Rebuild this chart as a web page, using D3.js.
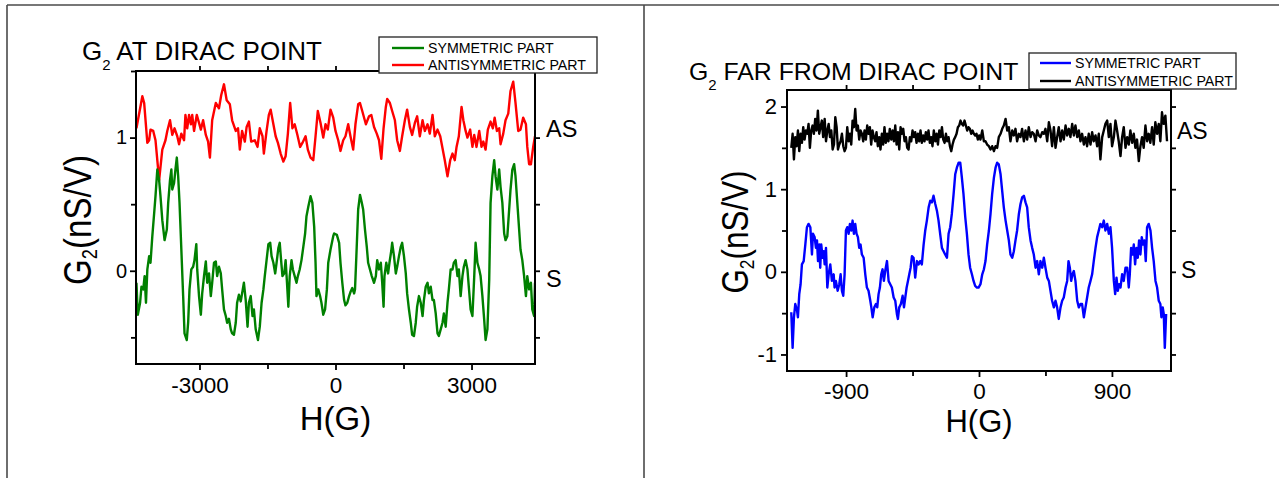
<!DOCTYPE html>
<html>
<head>
<meta charset="utf-8">
<script src="https://cdn.jsdelivr.net/npm/d3@7"></script>
<style>
  html, body { margin: 0; padding: 0; background: #fff; }
  svg { display: block; }
  text { font-family: "Liberation Sans", Arial, Helvetica, sans-serif; fill: #000; }
</style>
</head>
<body>
<svg id="fig" width="1279" height="478"></svg>
<script>
// ---------- G2 at the Dirac point: [H (G), G2 (nS/V)] ----------
const diracSymPts = [[-4390,-0.09],[-4360,-0.33],[-4310,-0.24],[-4280,-0.12],[-4240,-0.14],[-4210,-0.04],[-4180,-0.24],[-4150,0.01],[-4110,0.11],[-4080,0.06],[-4040,0.26],[-4000,0.43],[-3970,0.56],[-3930,0.76],[-3890,0.68],[-3860,0.56],[-3820,0.38],[-3770,0.23],[-3720,0.31],[-3690,0.51],[-3650,0.68],[-3620,0.76],[-3600,0.61],[-3560,0.66],[-3530,0.76],[-3500,0.85],[-3470,0.71],[-3440,0.51],[-3400,0.16],[-3360,-0.19],[-3330,-0.47],[-3280,-0.52],[-3250,-0.39],[-3220,-0.14],[-3180,0.01],[-3140,0.03],[-3110,0.08],[-3070,0.20],[-3050,0.01],[-3010,-0.19],[-2970,-0.33],[-2940,-0.17],[-2900,-0.04],[-2860,0.07],[-2830,-0.09],[-2790,-0.02],[-2750,-0.19],[-2720,-0.09],[-2680,0.06],[-2640,0.07],[-2610,-0.04],[-2570,0.03],[-2530,-0.02],[-2500,-0.14],[-2460,-0.29],[-2420,-0.34],[-2390,-0.39],[-2350,-0.36],[-2310,-0.44],[-2280,-0.47],[-2240,-0.48],[-2200,-0.39],[-2170,-0.24],[-2130,-0.18],[-2090,-0.23],[-2060,-0.17],[-2020,-0.09],[-1980,-0.22],[-1940,-0.42],[-1910,-0.24],[-1870,-0.19],[-1830,-0.34],[-1800,-0.29],[-1760,-0.44],[-1710,-0.52],[-1670,-0.42],[-1630,-0.24],[-1590,-0.14],[-1560,-0.04],[-1520,0.08],[-1480,0.20],[-1440,0.21],[-1410,0.11],[-1370,0.06],[-1330,-0.02],[-1300,0.06],[-1260,0.17],[-1230,0.21],[-1200,0.08],[-1170,-0.04],[-1130,-0.02],[-1100,0.08],[-1070,-0.09],[-1040,-0.27],[-1010,-0.04],[-970,0.08],[-940,0.01],[-900,-0.04],[-860,-0.09],[-830,-0.04],[-790,0.01],[-750,0.08],[-710,0.18],[-670,0.28],[-640,0.41],[-600,0.48],[-550,0.56],[-510,0.51],[-470,0.33],[-440,0.06],[-420,-0.19],[-380,-0.14],[-340,-0.19],[-310,-0.24],[-270,-0.33],[-230,-0.29],[-190,-0.14],[-160,0.06],[-110,0.16],[-50,0.26],[-30,0.28],[30,0.27],[80,0.21],[110,0.06],[150,-0.09],[190,-0.22],[220,-0.26],[260,-0.24],[300,-0.19],[330,-0.16],[370,-0.13],[410,-0.17],[430,-0.14],[460,0.11],[500,0.46],[540,0.57],[580,0.51],[610,0.46],[650,0.31],[690,0.18],[720,0.06],[760,0.01],[800,-0.04],[850,-0.09],[890,-0.04],[920,0.08],[960,0.01],[1000,0.06],[1030,-0.09],[1060,-0.27],[1080,-0.04],[1120,0.06],[1160,-0.02],[1190,0.06],[1230,0.15],[1250,0.21],[1290,0.11],[1330,-0.02],[1360,0.03],[1400,0.11],[1440,0.18],[1470,0.21],[1510,0.11],[1550,-0.02],[1580,-0.17],[1620,-0.29],[1660,-0.39],[1690,-0.48],[1730,-0.49],[1770,-0.39],[1800,-0.27],[1840,-0.19],[1880,-0.24],[1920,-0.34],[1950,-0.22],[1990,-0.12],[2030,-0.09],[2060,-0.17],[2100,-0.12],[2140,-0.22],[2170,-0.22],[2210,-0.32],[2250,-0.47],[2280,-0.49],[2320,-0.44],[2360,-0.39],[2390,-0.32],[2430,-0.42],[2470,-0.24],[2500,-0.14],[2540,0.01],[2580,0.01],[2610,0.06],[2650,0.08],[2690,-0.04],[2720,0.01],[2760,-0.19],[2800,-0.04],[2830,0.03],[2870,0.08],[2910,0.01],[2940,-0.12],[2980,-0.29],[3020,-0.34],[3060,-0.04],[3090,0.21],[3130,0.06],[3170,0.01],[3200,-0.04],[3240,-0.19],[3280,-0.37],[3310,-0.52],[3350,-0.44],[3390,-0.07],[3420,0.51],[3460,0.71],[3500,0.83],[3530,0.71],[3570,0.61],[3610,0.76],[3640,0.63],[3680,0.51],[3720,0.28],[3750,0.23],[3790,0.26],[3830,0.46],[3860,0.61],[3900,0.76],[3940,0.80],[3970,0.71],[4010,0.51],[4050,0.31],[4080,0.16],[4120,0.08],[4160,-0.04],[4200,-0.19],[4230,-0.04],[4270,-0.14],[4310,-0.09],[4340,-0.29],[4380,-0.34],[4400,-0.09]];

const diracAntiPts = [[-4390,1.07],[-4260,1.31],[-4220,1.26],[-4150,0.96],[-4110,0.98],[-4080,1.06],[-4020,1.05],[-3970,0.98],[-3890,0.68],[-3820,0.91],[-3750,0.98],[-3710,1.05],[-3650,1.13],[-3600,1.02],[-3550,1.07],[-3490,1.01],[-3450,0.95],[-3400,1.03],[-3340,0.98],[-3310,1.17],[-3270,1.07],[-3230,1.17],[-3190,1.10],[-3160,1.17],[-3120,1.05],[-3060,1.17],[-3010,1.11],[-2970,1.06],[-2920,1.13],[-2860,1.02],[-2810,0.97],[-2770,0.85],[-2720,1.13],[-2640,1.26],[-2570,1.22],[-2520,1.32],[-2460,1.40],[-2400,1.28],[-2330,1.25],[-2280,1.13],[-2200,1.05],[-2150,1.07],[-2110,0.91],[-2060,1.05],[-2000,0.97],[-1960,1.08],[-1910,1.12],[-1860,0.97],[-1780,0.98],[-1720,0.93],[-1670,1.07],[-1610,1.01],[-1580,0.88],[-1520,1.05],[-1470,1.17],[-1430,1.21],[-1370,1.10],[-1320,1.01],[-1270,0.96],[-1210,0.88],[-1150,0.82],[-1100,0.86],[-1050,1.03],[-1000,1.26],[-950,1.07],[-900,1.10],[-840,1.02],[-780,0.93],[-730,0.96],[-660,1.01],[-610,0.91],[-550,0.85],[-490,0.83],[-440,1.01],[-390,1.20],[-330,1.11],[-270,1.00],[-220,1.10],[-170,1.06],[-110,1.21],[-50,1.15],[0,1.05],[60,0.98],[110,0.90],[170,0.98],[220,1.01],[280,1.10],[330,1.01],[390,0.91],[440,1.10],[500,1.25],[540,1.26],[590,1.20],[670,1.10],[740,1.16],[790,1.17],[850,1.08],[910,1.03],[960,0.98],[1010,0.84],[1060,1.07],[1110,1.23],[1140,1.29],[1200,1.26],[1250,1.20],[1310,1.13],[1360,0.98],[1420,0.90],[1470,1.01],[1530,1.13],[1580,1.21],[1640,1.08],[1690,1.02],[1750,1.11],[1800,1.16],[1860,1.01],[1920,1.13],[1970,1.05],[2030,1.10],[2080,1.03],[2140,1.17],[2190,1.01],[2250,1.06],[2310,1.01],[2360,0.92],[2410,0.83],[2470,0.71],[2530,0.83],[2580,0.88],[2630,0.83],[2670,0.93],[2720,1.01],[2780,1.23],[2820,1.13],[2870,1.05],[2910,1.00],[2970,1.06],[3020,0.93],[3060,1.02],[3110,0.93],[3170,1.05],[3220,0.93],[3260,0.97],[3310,0.91],[3360,1.06],[3420,1.12],[3470,1.07],[3510,1.15],[3560,1.05],[3610,1.07],[3640,0.95],[3700,1.03],[3750,1.13],[3810,1.18],[3860,1.35],[3920,1.42],[3970,1.26],[4030,1.05],[4080,1.06],[4140,1.15],[4200,1.10],[4230,0.93],[4270,0.80],[4310,0.80],[4360,0.93],[4400,1.01]];

// ---------- G2 far from the Dirac point: [H (G), G2 (nS/V)] ----------
const farSymPts = [[-1271,-0.49],[-1262,-0.92],[-1253,-0.55],[-1244,-0.39],[-1232,-0.47],[-1226,-0.55],[-1217,-0.27],[-1208,-0.15],[-1199,0.09],[-1187,0.13],[-1176,0.33],[-1165,0.54],[-1154,0.58],[-1142,0.54],[-1131,0.21],[-1124,0.46],[-1113,0.42],[-1104,0.29],[-1097,0.38],[-1090,0.13],[-1081,0.33],[-1075,0.05],[-1068,0.33],[-1059,0.17],[-1052,0.25],[-1045,0.09],[-1036,0.29],[-1027,-0.19],[-1018,-0.03],[-1007,0.09],[-996,-0.11],[-984,-0.03],[-978,-0.19],[-969,-0.11],[-957,-0.23],[-946,-0.15],[-937,-0.03],[-928,-0.23],[-919,-0.29],[-910,-0.03],[-901,0.50],[-892,0.54],[-883,0.46],[-874,0.58],[-865,0.50],[-856,0.62],[-847,0.46],[-838,0.58],[-829,0.46],[-820,0.42],[-811,0.29],[-802,0.33],[-793,0.21],[-781,0.17],[-770,-0.03],[-759,-0.19],[-748,-0.23],[-736,-0.35],[-729,-0.43],[-720,-0.55],[-709,-0.43],[-698,-0.39],[-689,-0.43],[-680,-0.27],[-671,-0.19],[-662,-0.03],[-653,0.03],[-644,-0.11],[-635,0.01],[-623,0.13],[-612,-0.11],[-601,-0.15],[-590,-0.19],[-578,-0.31],[-567,-0.35],[-556,-0.51],[-549,-0.57],[-540,-0.43],[-529,-0.39],[-517,-0.29],[-508,-0.43],[-499,-0.31],[-490,-0.19],[-481,-0.11],[-472,-0.03],[-463,0.05],[-454,0.19],[-443,0.17],[-432,-0.07],[-420,0.13],[-409,0.09],[-398,0.13],[-387,0.09],[-375,0.33],[-364,0.50],[-353,0.62],[-341,0.78],[-330,0.86],[-319,0.84],[-308,0.92],[-296,0.82],[-285,0.74],[-274,0.62],[-263,0.46],[-251,0.29],[-240,0.25],[-229,0.21],[-217,0.17],[-206,0.46],[-195,0.54],[-184,0.70],[-172,0.94],[-161,1.18],[-150,1.26],[-138,1.32],[-127,1.32],[-116,1.14],[-105,0.94],[-93,0.66],[-82,0.46],[-71,0.21],[-60,0.05],[-48,-0.03],[-37,-0.11],[-26,-0.17],[-14,-0.19],[-3,-0.19],[10,-0.15],[22,-0.03],[33,0.03],[44,0.13],[55,0.33],[67,0.50],[78,0.70],[89,0.94],[101,1.14],[112,1.26],[123,1.32],[134,1.30],[146,1.18],[157,0.98],[168,0.78],[180,0.62],[191,0.50],[202,0.38],[213,0.21],[225,0.17],[236,0.25],[247,0.38],[258,0.50],[270,0.70],[281,0.82],[292,0.90],[304,0.92],[315,0.84],[326,0.78],[337,0.54],[349,0.38],[360,0.29],[371,0.21],[383,0.05],[394,0.13],[405,-0.03],[416,0.13],[428,0.05],[439,0.17],[450,0.05],[462,-0.07],[473,-0.11],[484,-0.23],[495,-0.35],[507,-0.43],[518,-0.35],[529,-0.43],[540,-0.57],[552,-0.43],[563,-0.35],[574,-0.31],[586,-0.19],[597,-0.11],[606,0.13],[615,0.05],[624,-0.11],[633,-0.03],[642,0.01],[653,-0.11],[665,-0.35],[676,-0.43],[687,-0.39],[698,-0.39],[710,-0.55],[721,-0.43],[732,-0.31],[743,-0.19],[755,-0.11],[766,-0.03],[777,0.13],[789,0.29],[800,0.42],[811,0.50],[822,0.58],[834,0.54],[845,0.62],[856,0.50],[868,0.58],[879,0.46],[890,0.54],[901,0.29],[913,-0.11],[922,-0.27],[931,-0.07],[940,-0.23],[949,-0.15],[958,-0.19],[969,-0.03],[980,-0.11],[992,0.05],[1003,0.05],[1014,-0.19],[1021,-0.03],[1030,0.29],[1039,0.21],[1048,0.33],[1057,0.09],[1066,0.29],[1075,0.17],[1084,0.38],[1093,0.21],[1102,0.42],[1111,0.33],[1120,0.38],[1129,0.13],[1138,0.54],[1149,0.58],[1161,0.50],[1172,0.29],[1183,0.13],[1195,-0.11],[1206,-0.19],[1217,-0.35],[1228,-0.39],[1235,-0.55],[1244,-0.43],[1251,-0.51],[1258,-0.92],[1267,-0.51]];

const farAntiPts = [[-1271,1.50],[-1262,1.67],[-1253,1.36],[-1244,1.63],[-1235,1.52],[-1226,1.71],[-1217,1.46],[-1208,1.67],[-1199,1.56],[-1190,1.75],[-1181,1.60],[-1172,1.71],[-1163,1.67],[-1154,1.79],[-1145,1.50],[-1136,1.71],[-1127,1.77],[-1118,1.67],[-1109,1.85],[-1100,1.71],[-1091,1.95],[-1082,1.67],[-1073,1.75],[-1064,1.83],[-1055,1.63],[-1045,1.85],[-1036,1.58],[-1027,1.71],[-1018,1.79],[-1009,1.63],[-1000,1.71],[-991,1.48],[-982,1.54],[-973,1.87],[-964,1.75],[-955,1.48],[-946,1.54],[-937,1.58],[-928,1.67],[-919,1.52],[-910,1.46],[-901,1.50],[-892,1.75],[-883,1.58],[-874,1.67],[-865,1.54],[-856,1.83],[-847,1.75],[-838,1.97],[-829,1.71],[-820,1.77],[-811,1.60],[-802,1.71],[-793,1.67],[-784,1.58],[-775,1.71],[-766,1.60],[-757,1.77],[-748,1.67],[-739,1.75],[-730,1.54],[-721,1.71],[-712,1.63],[-703,1.58],[-694,1.69],[-685,1.52],[-676,1.63],[-667,1.48],[-658,1.67],[-649,1.54],[-640,1.75],[-631,1.56],[-622,1.67],[-613,1.58],[-604,1.73],[-594,1.60],[-585,1.71],[-576,1.58],[-567,1.77],[-558,1.54],[-549,1.69],[-540,1.48],[-531,1.75],[-522,1.67],[-513,1.73],[-504,1.58],[-495,1.63],[-486,1.50],[-477,1.48],[-468,1.63],[-459,1.58],[-450,1.71],[-441,1.63],[-432,1.69],[-423,1.56],[-414,1.67],[-405,1.58],[-396,1.71],[-387,1.56],[-378,1.65],[-369,1.58],[-360,1.69],[-351,1.60],[-342,1.71],[-333,1.56],[-324,1.63],[-315,1.52],[-306,1.71],[-296,1.58],[-287,1.67],[-278,1.54],[-269,1.71],[-260,1.63],[-251,1.75],[-242,1.60],[-233,1.56],[-224,1.67],[-215,1.58],[-206,1.63],[-197,1.52],[-188,1.46],[-179,1.54],[-170,1.60],[-161,1.63],[-152,1.67],[-143,1.75],[-134,1.77],[-125,1.83],[-116,1.79],[-107,1.77],[-98,1.83],[-89,1.77],[-80,1.71],[-71,1.75],[-62,1.73],[-53,1.67],[-44,1.71],[-35,1.67],[-26,1.65],[-17,1.67],[-8,1.60],[1,1.65],[10,1.60],[22,1.71],[33,1.58],[44,1.58],[55,1.54],[67,1.52],[78,1.48],[89,1.52],[101,1.46],[112,1.52],[123,1.50],[134,1.63],[146,1.67],[157,1.73],[168,1.77],[180,1.85],[191,1.71],[202,1.75],[213,1.58],[225,1.71],[236,1.65],[247,1.73],[258,1.58],[270,1.67],[281,1.63],[292,1.73],[304,1.58],[315,1.71],[326,1.60],[337,1.75],[349,1.63],[360,1.69],[371,1.67],[383,1.58],[394,1.71],[405,1.65],[416,1.63],[428,1.69],[439,1.67],[450,1.73],[462,1.58],[473,1.81],[484,1.71],[495,1.52],[507,1.75],[518,1.50],[529,1.63],[540,1.75],[552,1.58],[563,1.71],[574,1.60],[586,1.77],[597,1.65],[608,1.73],[619,1.63],[631,1.79],[642,1.65],[653,1.77],[665,1.63],[676,1.71],[687,1.58],[698,1.67],[710,1.54],[721,1.63],[732,1.52],[743,1.67],[755,1.54],[766,1.69],[777,1.58],[789,1.65],[800,1.52],[811,1.67],[822,1.36],[834,1.63],[845,1.71],[856,1.79],[868,1.83],[879,1.63],[890,1.79],[901,1.52],[913,1.63],[924,1.83],[935,1.71],[946,1.58],[958,1.40],[969,1.63],[980,1.75],[992,1.50],[1003,1.63],[1014,1.54],[1025,1.71],[1037,1.56],[1048,1.67],[1059,1.50],[1070,1.60],[1082,1.34],[1093,1.52],[1104,1.63],[1115,1.50],[1127,1.77],[1138,1.58],[1149,1.67],[1160,1.56],[1172,1.75],[1183,1.54],[1194,1.81],[1206,1.67],[1217,1.79],[1228,1.58],[1239,1.93],[1250,1.79],[1262,1.89],[1273,1.58]];

// ---------- axis ticks and labels ----------
const diracXTicks = [-3000, 0, 3000];
const diracXMinor = [-1500, 1500];
const diracYTicks = [0, 1];
const diracYMinor = [-0.5, 0.5, 1.5];
const farXTicks = [-900, 0, 900];
const farXMinor = [-450, 450];
const farYTicks = [-1, 0, 1, 2];
const farYMinor = [-0.5, 0.5, 1.5];

const legendLabels = ["SYMMETRIC PART", "ANTISYMMETRIC PART"];
const sideLabels = ["AS", "S"];

const svg = d3.select("#fig");
svg.append("rect").attr("width", 1279).attr("height", 478).attr("fill", "#fff");

// page frame and panel divider
const frame = svg.append("g").attr("stroke", "#4a4a4a").attr("stroke-width", 1.6).attr("fill", "none");
frame.append("line").attr("x1", 7).attr("y1", 5).attr("x2", 1279).attr("y2", 5);
frame.append("line").attr("x1", 7).attr("y1", 5).attr("x2", 7).attr("y2", 478);
frame.append("line").attr("x1", 644).attr("y1", 5).attr("x2", 644).attr("y2", 478);

function drawPanel(p) {
  const g = svg.append("g");
  const x = d3.scaleLinear().domain(p.xDomain).range([p.left, p.right]);
  const y = d3.scaleLinear().domain(p.yDomain).range([p.bottom, p.top]);
  const w = p.right - p.left, h = p.bottom - p.top;

  const clipId = "clip-" + p.id;
  g.append("clipPath").attr("id", clipId)
    .append("rect").attr("x", p.left).attr("y", p.top).attr("width", w).attr("height", h);

  const line = d3.line().x(d => x(d[0])).y(d => y(d[1]));
  const curves = g.append("g").attr("clip-path", `url(#${clipId})`);
  [[p.anti, p.antiColor], [p.sym, p.symColor]].forEach(([pts, col]) => {
    curves.append("path").datum(pts)
      .attr("d", line).attr("fill", "none")
      .attr("stroke", col).attr("stroke-width", 2.4)
      .attr("stroke-linejoin", "round");
  });

  // ticks: major with labels, minor without, mirrored on top and right
  const styleAxis = sel => {
    sel.select(".domain").remove();
    sel.selectAll(".tick line").attr("stroke", "#000").attr("stroke-width", 1.8);
  };
  const fmt = d => String(d);
  const bx = g.append("g").attr("transform", `translate(0,${p.bottom})`)
    .call(d3.axisBottom(x).tickValues(p.xTicks).tickFormat(fmt).tickSize(6)).call(styleAxis);
  bx.selectAll("text").attr("y", p.xLabelOffset).attr("dy", null)
    .style("font-size", p.xTickFont + "px").style("font-family", null);
  g.append("g").attr("transform", `translate(0,${p.bottom})`)
    .call(d3.axisBottom(x).tickValues(p.xMinor).tickFormat("").tickSize(5)).call(styleAxis);
  g.append("g").attr("transform", `translate(0,${p.top})`)
    .call(d3.axisTop(x).tickValues(p.xTicks.concat(p.xMinor)).tickFormat("").tickSize(5)).call(styleAxis);

  const ly = g.append("g").attr("transform", `translate(${p.left},0)`)
    .call(d3.axisLeft(y).tickValues(p.yTicks).tickFormat(fmt).tickSize(6)).call(styleAxis);
  ly.selectAll("text").attr("x", p.yLabelOffset)
    .style("font-size", p.yTickFont + "px").style("font-family", null);
  g.append("g").attr("transform", `translate(${p.left},0)`)
    .call(d3.axisLeft(y).tickValues(p.yMinor).tickFormat("").tickSize(5)).call(styleAxis);
  g.append("g").attr("transform", `translate(${p.right},0)`)
    .call(d3.axisRight(y).tickValues(p.yTicks.concat(p.yMinor)).tickFormat("").tickSize(5)).call(styleAxis);
  g.selectAll(".tick text").attr("fill", "#000");

  // plot frame
  g.append("rect").attr("x", p.left).attr("y", p.top).attr("width", w).attr("height", h)
    .attr("fill", "none").attr("stroke", "#000").attr("stroke-width", 2);

  // title with subscript
  const t = g.append("text").attr("x", p.titleX).attr("y", p.titleY).style("font-size", p.titleFont + "px");
  t.append("tspan").text("G");
  t.append("tspan").attr("dy", 10).style("font-size", "15px").text("2");
  t.append("tspan").attr("dy", -10).text(" " + p.title);

  // axis titles
  g.append("text").attr("x", x(0)).attr("y", p.xTitleY).attr("text-anchor", "middle")
    .style("font-size", p.xTitleFont + "px").text("H(G)");
  const yt = g.append("text")
    .attr("transform", `translate(${p.yTitleX},${p.yTitleY}) rotate(-90) scale(${p.yTitleSqueeze},1)`)
    .attr("text-anchor", "middle").style("font-size", p.yTitleFont + "px");
  yt.append("tspan").text("G");
  yt.append("tspan").attr("dy", 6).style("font-size", (p.yTitleFont * 0.55) + "px").text("2");
  yt.append("tspan").attr("dy", -6).text("(nS/V)");

  // curve tags on the right
  g.append("text").attr("x", p.tagX).attr("y", p.tagYs[0]).style("font-size", p.tagFont + "px").text(sideLabels[0]);
  g.append("text").attr("x", p.tagX + p.sTagShift).attr("y", p.tagYs[1]).style("font-size", p.tagFont + "px").text(sideLabels[1]);

  // legend
  const lg = g.append("g");
  lg.append("rect").attr("x", p.legend.x).attr("y", p.legend.y)
    .attr("width", p.legend.w).attr("height", p.legend.h)
    .attr("fill", "#fff").attr("stroke", "#222").attr("stroke-width", 1.3);
  [p.symColor, p.antiColor].forEach((col, i) => {
    const yy = p.legend.rowY[i];
    lg.append("line").attr("x1", p.legend.lineX1).attr("x2", p.legend.lineX2)
      .attr("y1", yy).attr("y2", yy).attr("stroke", col).attr("stroke-width", 2.4);
    lg.append("text").attr("x", p.legend.textX).attr("y", yy + 5)
      .style("font-size", "14.2px").text(legendLabels[i]);
  });
}

drawPanel({
  id: "dirac",
  left: 136, right: 535, top: 71, bottom: 364,
  xDomain: [-4400, 4400], yDomain: [-0.7, 1.5],
  xTicks: diracXTicks, xMinor: diracXMinor, yTicks: diracYTicks, yMinor: diracYMinor,
  sym: diracSymPts, anti: diracAntiPts, symColor: "#008000", antiColor: "#ff0000",
  xLabelOffset: 29, xTickFont: 22.5, yLabelOffset: -9, yTickFont: 20,
  title: "AT DIRAC POINT", titleX: 82, titleY: 60, titleFont: 26,
  xTitleY: 430, xTitleFont: 33,
  yTitleX: 91, yTitleY: 220, yTitleFont: 39, yTitleSqueeze: 0.85,
  tagX: 546, sTagShift: 0, tagYs: [137, 287], tagFont: 23.5,
  legend: { x: 379, y: 37, w: 218, h: 36, rowY: [48, 65], lineX1: 392, lineX2: 424, textX: 428 }
});

drawPanel({
  id: "far",
  left: 787, right: 1171, top: 90, bottom: 371,
  xDomain: [-1300, 1300], yDomain: [-1.2, 2.2],
  xTicks: farXTicks, xMinor: farXMinor, yTicks: farYTicks, yMinor: farYMinor,
  sym: farSymPts, anti: farAntiPts, symColor: "#0000ff", antiColor: "#000000",
  xLabelOffset: 28, xTickFont: 22.5, yLabelOffset: -10, yTickFont: 22,
  title: "FAR FROM DIRAC POINT", titleX: 689, titleY: 80, titleFont: 24.8,
  xTitleY: 432, xTitleFont: 31,
  yTitleX: 748, yTitleY: 232, yTitleFont: 37, yTitleSqueeze: 0.85,
  tagX: 1177, sTagShift: 4, tagYs: [139, 278], tagFont: 23,
  legend: { x: 1029, y: 53, w: 207, h: 36, rowY: [63, 81], lineX1: 1040, lineX2: 1071, textX: 1075 }
});
</script>
</body>
</html>
